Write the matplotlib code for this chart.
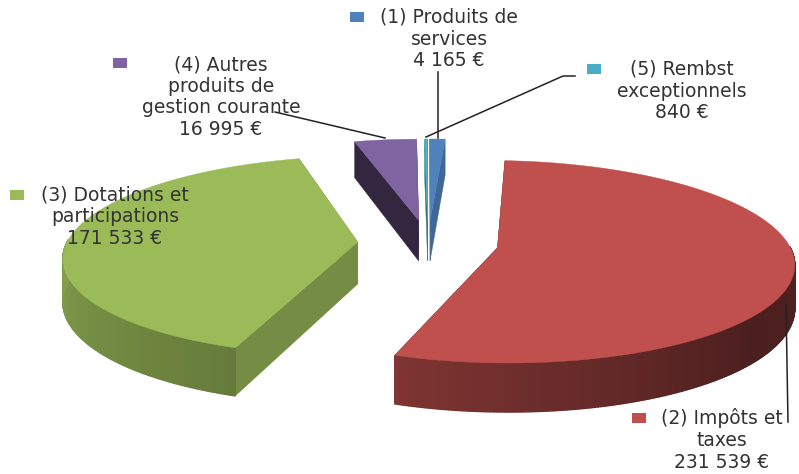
import matplotlib
matplotlib.use("Agg")
import matplotlib.pyplot as plt
import numpy as np

plt.rcParams["font.family"] = ["DejaVu Sans"]

# slices, clockwise from the top
labels = ["(1) Produits de\nservices", "(2) Impôts et\ntaxes", "(3) Dotations et\nparticipations",
          "(4) Autres\nproduits de\ngestion courante", "(5) Rembst\nexceptionnels"]
values = [4165, 231539, 171533, 16995, 840]
colors = ["#4F81BD", "#C0504D", "#9BBB59", "#8064A2", "#4BACC6"]
face_shade = [0.8, 0.4, 0.75, 0.39, 0.7]

# label centre, legend key position
label_pos = [(449, 39), (722, 440), (115, 217), (221, 97), (682, 91)]
key_pos = [(357, 17), (639, 418), (17, 195), (120, 63), (594, 69)]

# leader lines
leaders = [
    [(438, 72), (438, 138)],
    [(786, 305), (788, 422)],
    [],
    [(275, 112), (385, 138)],
    [(575, 76), (563, 76), (426, 137)],
]

# view of the tilted pie
CX, CY = 428, 243
RX, RY = 291, 98
PERSP = 0.137
EXPLODE = 0.242
DEPTH = 42


def project(x, y, drop=0.0):
    d = 1 + PERSP * y
    return CX + RX * x / d, CY - RY * y / d + drop / d


def rim_shade(theta):
    return np.interp(theta, [90, 130, 200, 270], [0.42, 0.39, 0.66, 0.85])


def shaded(color, k):
    return tuple(min(1, c * k) for c in matplotlib.colors.to_rgb(color))


def draw_slice(ax, start, end, color, k_face):
    mid = np.radians((start + end) / 2)
    ox, oy = EXPLODE * np.sin(mid), EXPLODE * np.cos(mid)
    thetas = np.linspace(start, end, max(3, int(end - start) * 2))
    rad = np.radians(thetas)
    xs, ys = ox + np.sin(rad), oy + np.cos(rad)

    # radial faces, the top hides the ones turned away
    side = shaded(color, k_face)
    for i in (0, -1):
        pts = [project(xs[i], ys[i]), project(ox, oy), project(ox, oy, DEPTH), project(xs[i], ys[i], DEPTH)]
        ax.fill(*zip(*pts), color=side, lw=0.3)

    # outer wall, only the front half, a quad per step so the shade can change along it
    for i in range(len(thetas) - 1):
        if np.cos(rad[i]) > 0.02:
            continue
        pts = [project(xs[i], ys[i]), project(xs[i + 1], ys[i + 1]),
               project(xs[i + 1], ys[i + 1], DEPTH), project(xs[i], ys[i], DEPTH)]
        ax.fill(*zip(*pts), color=shaded(color, rim_shade(thetas[i])), lw=1.0)

    # top
    top = [project(ox, oy)] + [project(a, b) for a, b in zip(xs, ys)]
    ax.fill(*zip(*top), color=color, lw=0.3)


fig = plt.figure(figsize=(7.99, 4.74), dpi=100)
ax = fig.add_axes([0, 0, 1, 1])
ax.set_xlim(0, 799)
ax.set_ylim(474, 0)
ax.axis("off")

angles = np.cumsum([0] + values) / sum(values) * 360
for i in np.argsort([-np.cos(np.radians((angles[j] + angles[j + 1]) / 2)) for j in range(len(values))]):
    draw_slice(ax, angles[i], angles[i + 1], colors[i], face_shade[i])

for line in leaders:
    if line:
        ax.plot(*zip(*line), color="#222222", lw=1.1)

for name, value, pos, key, color in zip(labels, values, label_pos, key_pos, colors):
    amount = f"{value:,}".replace(",", " ") + " €"
    ax.text(pos[0], pos[1], name + "\n" + amount, ha="center", va="center", multialignment="center",
            fontsize=13.5, color="#333333", linespacing=1.17)
    ax.add_patch(plt.Rectangle((key[0] - 7, key[1] - 5), 14, 10, color=color, lw=0))

fig.savefig("out.png", dpi=100)
plt.close(fig)
